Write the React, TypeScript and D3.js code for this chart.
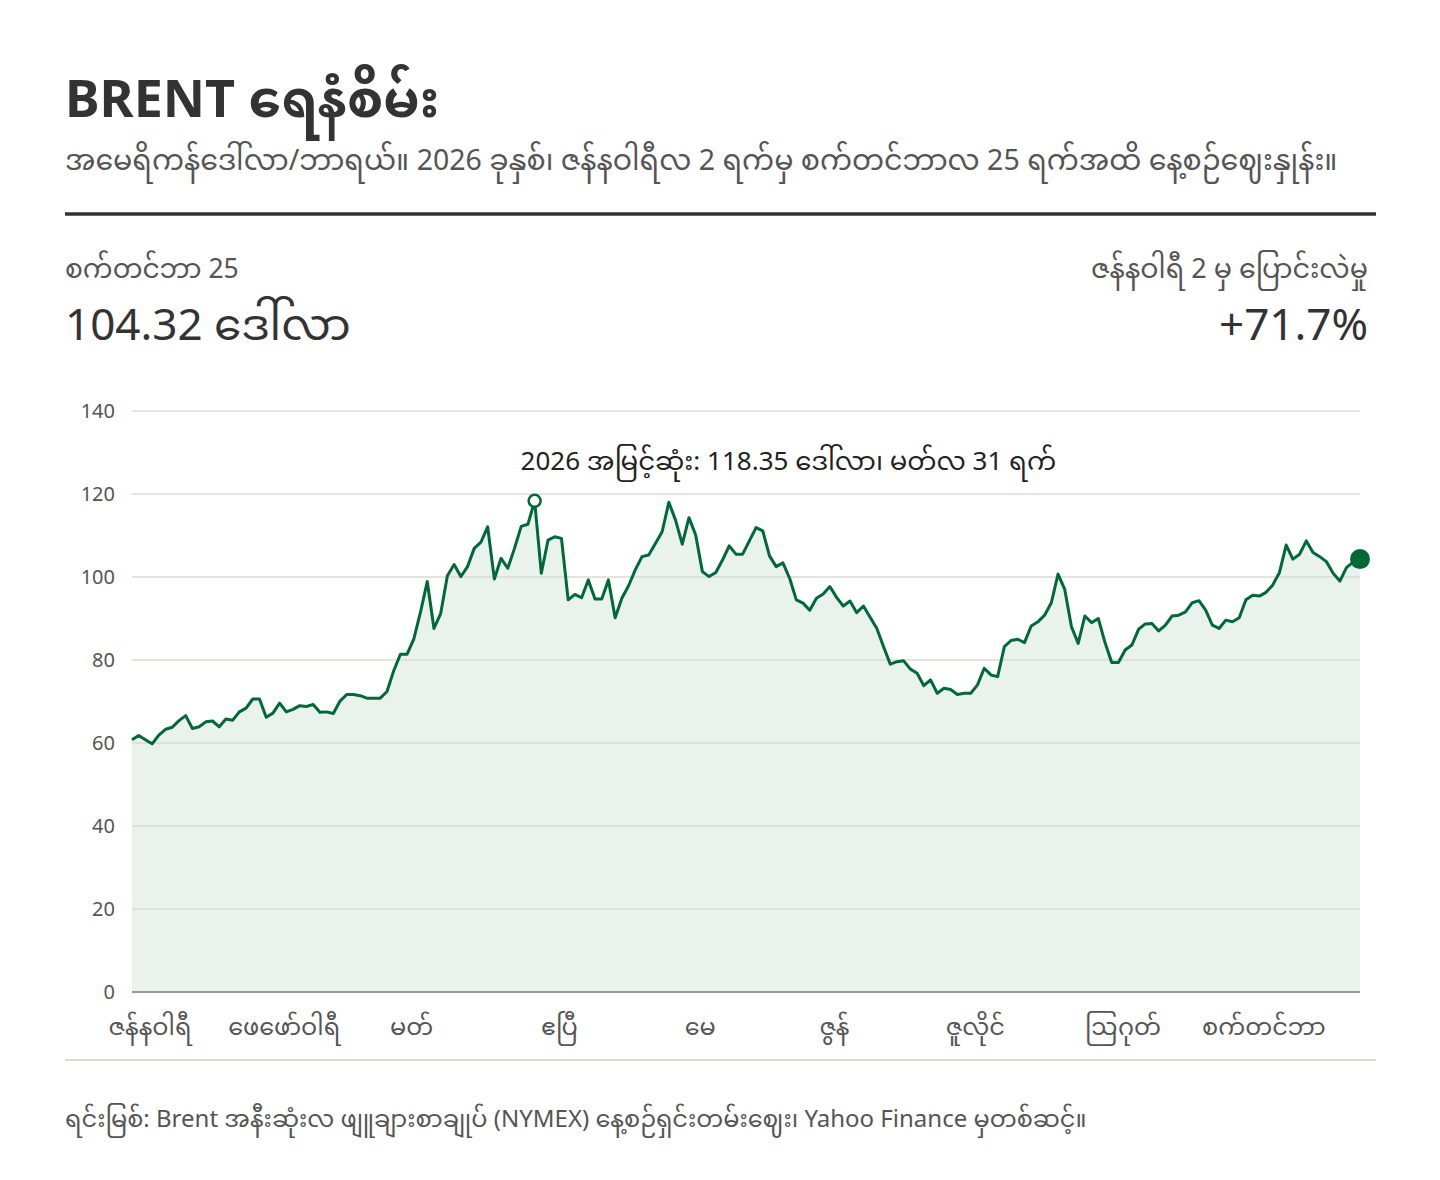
import React from "react";
import * as d3 from "d3";

// Brent front-month daily settle, trading days Jan 2 – Sep 25 2026 (USD/bbl)
const prices = [
  60.76, 61.8, 60.8, 59.8, 61.9, 63.3, 63.8, 65.4, 66.6, 63.5,
  63.9, 65.1, 65.3, 63.9, 65.8, 65.5, 67.5, 68.4, 70.6, 70.6,
  66.2, 67.2, 69.6, 67.5, 68.1, 69.0, 68.8, 69.3, 67.4, 67.5,
  67.1, 70.1, 71.7, 71.7, 71.4, 70.8, 70.8, 70.8, 72.4, 77.4,
  81.4, 81.4, 85.1, 91.6, 98.9, 87.6, 91.2, 100.3, 103.0, 100.1,
  102.5, 106.9, 108.4, 112.1, 99.5, 104.5, 102.1, 106.9, 112.2, 112.7,
  118.35, 100.9, 108.9, 109.7, 109.3, 94.5, 95.8, 95.0, 99.3, 94.7,
  94.7, 99.3, 90.2, 94.9, 97.9, 101.7, 104.9, 105.3, 108.1, 110.9,
  118.0, 113.7, 107.9, 114.3, 110.1, 101.3, 100.1, 101.1, 104.1, 107.5,
  105.5, 105.5, 108.7, 111.9, 111.1, 105.1, 102.5, 103.4, 99.7, 94.5,
  93.7, 92.0, 94.9, 95.9, 97.7, 95.1, 93.0, 94.2, 91.4, 93.0,
  90.3, 87.6, 83.2, 79.0, 79.6, 79.8, 77.8, 76.8, 73.8, 75.2,
  72.0, 73.2, 72.9, 71.7, 72.0, 72.0, 74.0, 78.0, 76.4, 76.0,
  83.2, 84.7, 85.0, 84.2, 88.2, 89.2, 90.8, 93.8, 100.7, 97.0,
  88.0, 84.0, 90.6, 89.0, 90.0, 84.2, 79.4, 79.4, 82.4, 83.6,
  87.4, 88.7, 88.8, 87.0, 88.4, 90.6, 90.8, 91.6, 93.8, 94.3,
  92.0, 88.4, 87.6, 89.6, 89.2, 90.2, 94.5, 95.6, 95.4, 96.3,
  98.1, 101.1, 107.7, 104.3, 105.5, 108.7, 105.9, 104.9, 103.7, 100.9,
  99.0, 102.3, 103.6, 104.32,
];

// index of first trading day of each month, and its label
const monthStarts = [0, 20, 39, 61, 82, 102, 123, 145, 166];
const monthLabels = ["ဇန်နဝါရီ", "ဖေဖော်ဝါရီ", "မတ်", "ဧပြီ", "မေ", "ဇွန်", "ဇူလိုင်", "ဩဂုတ်", "စက်တင်ဘာ"];

const yTicks = [0, 20, 40, 60, 80, 100, 120, 140];

const title = "BRENT ရေနံစိမ်း";
const subtitle = "အမေရိကန်ဒေါ်လာ/ဘာရယ်။ 2026 ခုနှစ်၊ ဇန်နဝါရီလ 2 ရက်မှ စက်တင်ဘာလ 25 ရက်အထိ နေ့စဉ်ဈေးနှုန်း။";
const lastLabel = "စက်တင်ဘာ 25";
const changeLabel = "ဇန်နဝါရီ 2 မှ ပြောင်းလဲမှု";
const peakDateLabel = "မတ်လ 31 ရက်";
const source = "ရင်းမြစ်: Brent အနီးဆုံးလ ဖျူချားစာချုပ် (NYMEX) နေ့စဉ်ရှင်းတမ်းဈေး၊ Yahoo Finance မှတစ်ဆင့်။";

const FONT = "'Noto Sans', 'Noto Sans Myanmar', 'Myanmar Text', sans-serif";
const GREEN = "#00693a";

export default function App() {
  const width = 1440;
  const height = 1180;
  const margin = { top: 411, right: 80, bottom: 188, left: 132 };
  const innerW = width - margin.left - margin.right;
  const innerH = height - margin.top - margin.bottom;

  const x = d3.scaleLinear().domain([0, prices.length - 1]).range([0, innerW]);
  const y = d3.scaleLinear().domain([0, 140]).range([innerH, 0]);

  const line = d3.line<number>().x((_, i) => x(i)).y((d) => y(d));
  const area = d3.area<number>().x((_, i) => x(i)).y0(y(0)).y1((d) => y(d));

  const last = prices[prices.length - 1];
  const first = prices[0];
  const change = (last / first - 1) * 100;
  const peakIdx = d3.maxIndex(prices);
  const peak = prices[peakIdx];

  return (
    <svg
      width={width}
      height={height}
      style={{ position: "absolute", left: 0, top: 0, background: "#fff" }}
      fontFamily={FONT}
    >
      {/* header */}
      <text x={65} y={117} fontSize={52} fontWeight={700} fill="#333">{title}</text>
      <text x={65} y={170} fontSize={28.5} fill="#555">{subtitle}</text>
      <line x1={65} x2={1376} y1={214} y2={214} stroke="#333" strokeWidth={3.5} />

      <text x={65} y={278} fontSize={26.5} fill="#555">{lastLabel}</text>
      <text x={65} y={340} fontSize={44} fill="#333">{`${last.toFixed(2)} ဒေါ်လာ`}</text>
      <text x={1368} y={278} fontSize={27} fill="#555" textAnchor="end">{changeLabel}</text>
      <text x={1368} y={340} fontSize={44} fill="#333" textAnchor="end">
        {`${change >= 0 ? "+" : ""}${change.toFixed(1)}%`}
      </text>

      <g transform={`translate(${margin.left},${margin.top})`}>
        <path d={area(prices) || ""} fill="#e9f2ec" />
        {yTicks.map((t) => (
          <g key={t}>
            <line
              x1={0}
              x2={innerW}
              y1={y(t)}
              y2={y(t)}
              stroke={t === 0 ? "#9a9a96" : "#dcdad3"}
              strokeWidth={t === 0 ? 2 : 1.5}
            />
            <text x={-17} y={y(t)} dy="0.35em" textAnchor="end" fontSize={20} fill="#555">
              {t}
            </text>
          </g>
        ))}
        <path d={line(prices) || ""} fill="none" stroke={GREEN} strokeWidth={3} strokeLinejoin="round" />

        {/* peak marker */}
        <circle cx={x(peakIdx)} cy={y(peak)} r={6} fill="#fff" stroke={GREEN} strokeWidth={2.5} />
        <text x={x(peakIdx) - 14} y={59} fontSize={26} fill="#222">
          {`2026 အမြင့်ဆုံး: ${peak.toFixed(2)} ဒေါ်လာ၊ ${peakDateLabel}`}
        </text>

        {/* last value */}
        <circle cx={x(prices.length - 1)} cy={y(last)} r={10} fill={GREEN} />

        {/* month labels */}
        {monthStarts.map((idx, k) => (
          <text
            key={monthLabels[k]}
            x={x(idx) + 18}
            y={innerH + 43}
            textAnchor="middle"
            fontSize={24}
            fill="#555"
          >
            {monthLabels[k]}
          </text>
        ))}
      </g>

      <line x1={65} x2={1376} y1={1060} y2={1060} stroke="#dedcd6" strokeWidth={2} />
      <text x={65} y={1127} fontSize={24} fill="#555">{source}</text>
    </svg>
  );
}
